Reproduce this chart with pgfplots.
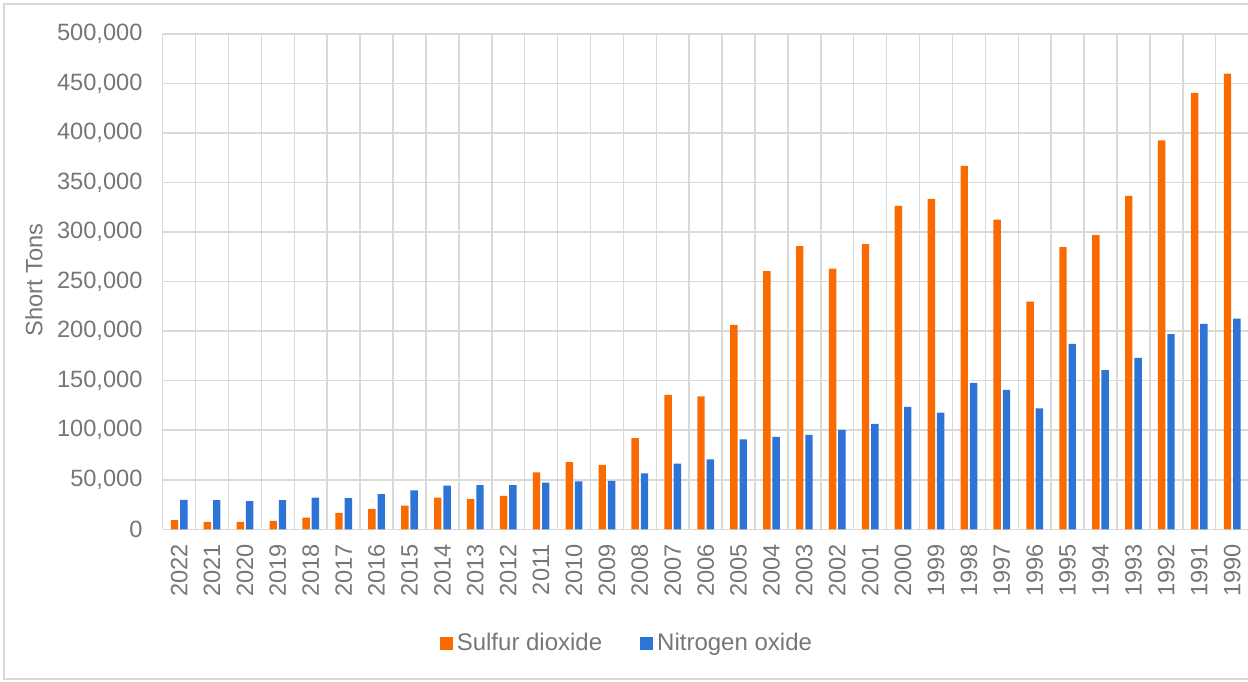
\documentclass[border=0pt]{standalone}
\usepackage{fontspec}
\setmainfont{Liberation Sans}
\usepackage{pgfplots}
\usepackage{pgfplotstable}
\pgfplotsset{compat=1.18}

\definecolor{so2col}{HTML}{F96B00}
\definecolor{noxcol}{HTML}{2D74D6}
\definecolor{gridgray}{HTML}{D9D9D9}
\definecolor{txtgray}{HTML}{767676}

% Annual emissions, short tons
\pgfplotstableread{
idx year so2 nox
0 2022 9300 29800
1 2021 7600 29500
2 2020 7600 28500
3 2019 8600 29500
4 2018 11900 32100
5 2017 16700 31500
6 2016 20700 35500
7 2015 24000 39200
8 2014 32100 44200
9 2013 30800 44600
10 2012 33800 44600
11 2011 57400 47200
12 2010 67900 48500
13 2009 65000 48800
14 2008 92100 56400
15 2007 135700 66400
16 2006 134300 70700
17 2005 206400 90900
18 2004 260600 93200
19 2003 285900 95300
20 2002 263200 100300
21 2001 287900 106400
22 2000 326600 123500
23 1999 333600 117800
24 1998 367000 147800
25 1997 312700 140700
26 1996 229900 122200
27 1995 284800 187200
28 1994 297000 160600
29 1993 336700 173000
30 1992 392500 197000
31 1991 440700 207400
32 1990 459900 212700
}\emissions

\begin{document}
\begin{tikzpicture}
\useasboundingbox (0pt,0pt) rectangle (624pt,340.5pt);
\draw[gridgray, line width=0.75pt] (625pt,338.5pt) -- (2pt,338.5pt) -- (2pt,1pt) -- (625pt,1pt);
\begin{axis}[
  at={(81.35pt,75.85pt)}, anchor=south west,
  width=542.95pt, height=247.65pt, scale only axis,
  xmin=-0.5, xmax=32.5, ymin=0, ymax=500000,
  xtick={0,...,32},
  xticklabels={2022,2021,2020,2019,2018,2017,2016,2015,2014,2013,2012,2011,2010,2009,2008,2007,2006,2005,2004,2003,2002,2001,2000,1999,1998,1997,1996,1995,1994,1993,1992,1991,1990},
  minor xtick={-0.5,0.5,...,32.5},
  ytick distance=50000,
  xminorgrids, ymajorgrids,
  grid style={gridgray, line width=0.75pt},
  minor grid style={gridgray, line width=0.75pt},
  major tick length=0pt, minor tick length=0pt,
  axis line style={draw=none},
  scaled y ticks=false,
  /pgf/number format/assume math mode=true,
  y tick label style={/pgf/number format/fixed, /pgf/number format/1000 sep={,}, xshift=-6.6pt},
  x tick label style={yshift=-4pt, rotate=90, anchor=east},
  tick label style={font=\fontsize{11.8pt}{14pt}\selectfont, text=txtgray},
  ylabel={Short Tons},
  every axis y label/.style={at={(axis description cs:-0.1185,0.503)}, rotate=90, anchor=center, font=\fontsize{11.8pt}{14pt}\selectfont, text=txtgray},
  ybar, bar width=3.7pt,
  legend style={at={(0.4284,-0.2296)}, anchor=center, legend columns=2, draw=none, fill=none,
    font=\fontsize{12pt}{14pt}\selectfont, text=txtgray,
    /tikz/every even column/.append style={column sep=17pt}},
]
\addplot[fill=so2col, draw=none, bar shift=-2.33pt,
  legend image code/.code={\fill[so2col] (0pt,-3.25pt) rectangle (6.5pt,3.25pt);}]
  table[x=idx, y=so2]{\emissions};
\addplot[fill=noxcol, draw=none, bar shift=2.33pt,
  legend image code/.code={\fill[noxcol] (0pt,-3.25pt) rectangle (6.5pt,3.25pt);}]
  table[x=idx, y=nox]{\emissions};
\legend{Sulfur dioxide, Nitrogen oxide}
\end{axis}
\end{tikzpicture}
\end{document}
